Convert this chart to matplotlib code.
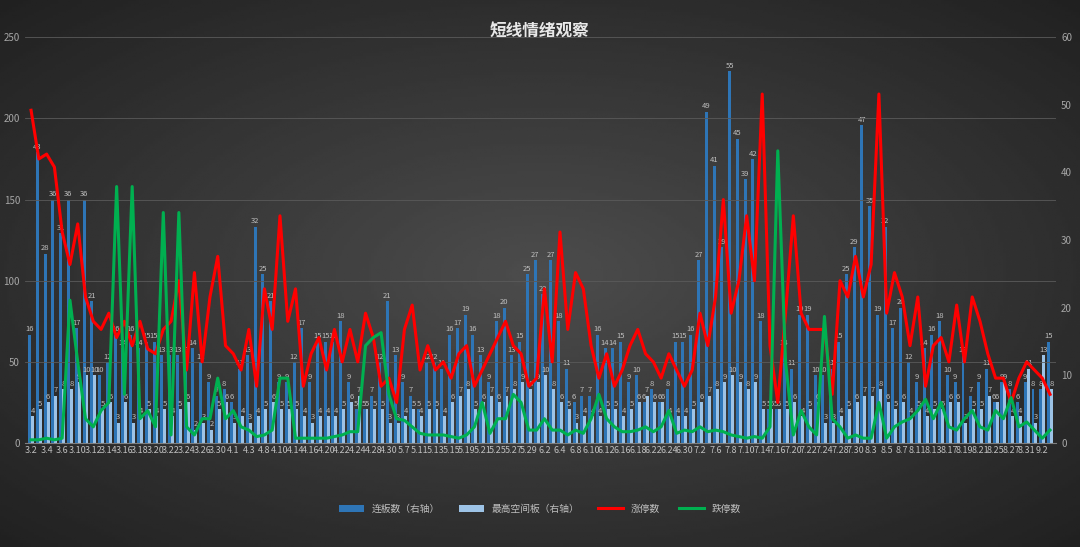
import numpy as np
import matplotlib.pyplot as plt
plt.rcParams['font.family'] = ['Noto Sans CJK SC', 'Noto Sans CJK JP', 'Noto Sans CJK KR', 'DejaVu Sans']

dates = ['3.2','3.3','3.4','3.5','3.6','3.9','3.10','3.11','3.12','3.13','3.14','3.15','3.16','3.17','3.18','3.19','3.20','3.21','3.22','3.23','3.24','3.25','3.26',
         '3.29','3.30','3.31','4.1','4.2','4.3','4.7','4.8','4.9','4.10',
         '4.13','4.14','4.15','4.16','4.19','4.20','4.21','4.22','4.23','4.24',
         '4.27','4.28','4.29','4.30','5.6','5.7','5.10','5.11','5.12','5.13',
         '5.14','5.15','5.18','5.19','5.20','5.21','5.24','5.25','5.26','5.27',
         '5.28','5.29','6.1','6.2','6.3','6.4','6.7','6.8','6.9','6.10',
         '6.11','6.12','6.15','6.16','6.17','6.18','6.21','6.22','6.23','6.24',
         '6.25','6.30','7.1','7.2','7.5','7.6','7.7','7.8','7.9','7.10',
         '7.13','7.14','7.15','7.16','7.19','7.20','7.21','7.22','7.23','7.24',
         '7.27','7.28','7.29','7.30','8.2','8.3','8.4','8.5','8.6','8.7',
         '8.10','8.11','8.12','8.13','8.16','8.17','8.18','8.19','8.20','8.21',
         '8.24','8.25','8.26','8.27','8.30','8.31','9.1','9.2','9.3']

# 连板数 (右轴)
lianban = [16,43,28,36,31,36,17,36,21,10,
           12,16,14,16,14,15,15,13,13,13,
           13,14,12,9,7,8,6,11,13,32,
           25,21,9,9,12,17,9,15,15,15,
           18,9,5,5,7,12,21,13,9,7,
           5,12,12,11,16,17,19,16,13,9,
           18,20,13,15,25,27,22,27,18,11,
           6,7,7,16,14,14,15,9,10,6,
           8,6,8,15,15,16,27,49,41,29,
           55,45,39,42,18,5,5,14,11,19,
           19,10,10,11,15,25,29,47,35,19,
           32,17,20,12,9,14,16,18,10,9,
           13,7,9,11,6,9,8,6,9,8,
           8,15]
# 最高空间板 (右轴)
kongjian = [4,5,6,7,8,8,9,10,10,5,
            6,3,6,3,4,5,4,5,4,5,
            6,2,3,2,5,6,3,4,3,4,
            5,6,5,5,5,4,3,4,4,4,
            5,6,7,5,5,5,3,3,4,5,
            4,5,5,4,6,7,8,5,6,7,
            6,7,8,9,8,9,10,8,6,5,
            3,4,4,4,5,5,4,5,6,7,
            6,6,4,4,4,5,6,7,8,9,
            10,9,8,9,5,5,5,5,6,4,
            5,6,3,3,4,5,6,7,7,8,
            6,5,6,4,5,4,5,5,6,6,
            3,5,5,7,6,9,4,4,11,3,
            13,8]
# 涨停数 (左轴)
zhangting = [205,175,178,170,130,110,135,90,75,70,
             80,65,75,60,75,58,55,70,75,100,
             45,105,50,90,115,60,55,45,70,35,
             95,70,140,75,95,35,55,65,45,70,
             50,70,50,80,65,35,40,25,70,85,
             45,60,45,50,40,55,60,35,45,55,
             65,75,60,55,35,40,95,50,130,70,
             105,95,60,40,55,35,45,60,70,55,
             50,40,55,45,35,45,80,60,90,150,
             80,100,140,100,215,60,25,80,140,80,
             70,70,70,30,100,90,115,90,110,215,
             80,105,90,60,90,35,60,65,50,85,
             50,90,75,55,40,40,25,40,50,45,
             40,30]
# 跌停数 (左轴)
dieting = [2,2,3,2,3,88,50,15,10,20,
           25,158,30,158,15,20,10,142,5,142,
           10,5,15,15,40,15,20,10,8,4,
           5,8,40,40,3,3,3,3,3,4,
           5,7,7,60,65,68,30,15,14,10,
           6,5,5,5,4,3,5,10,25,6,
           15,15,30,25,8,8,15,8,8,5,
           8,6,15,30,15,10,7,7,8,10,
           7,10,20,6,8,7,10,7,8,7,
           5,4,3,4,3,10,180,50,5,20,
           10,5,78,15,10,3,5,3,3,25,
           3,10,13,15,20,27,15,25,10,8,
           15,20,10,8,20,15,28,10,13,8,
           3,8]

x = np.arange(len(dates))
txt = '#bfbfbf'

fig = plt.figure(figsize=(10.8, 5.47), dpi=100)
# dark radial background
bg = fig.add_axes([0, 0, 1, 1], zorder=-10)
yy, xx = np.mgrid[-1:1:200j, -1:1:400j]
r = np.sqrt(xx**2 + yy**2)
bg.imshow(0.30 - 0.17 * np.clip(r, 0, 1.4) / 1.4, cmap='gray', vmin=0, vmax=1, aspect='auto')
bg.axis('off')

ax = fig.add_axes([0.023, 0.19, 0.955, 0.742])
ax2 = ax.twinx()
ax.set_zorder(ax2.get_zorder() + 1)
ax.patch.set_visible(False)
ax2.patch.set_visible(False)

w = 0.38
b1 = ax2.bar(x - w / 2, lianban, w, color='#2e75b6', label='连板数（右轴）')
b2 = ax2.bar(x + w / 2, kongjian, w, color='#9dc3e6', label='最高空间板（右轴）')
ax2.bar_label(b1, padding=1, fontsize=5.5, color=txt)
ax2.bar_label(b2, padding=1, fontsize=5.5, color=txt)
ax2.set_ylim(0, 60)
ax2.set_yticks(range(0, 61, 10))

ax.plot(x, zhangting, color='#ff0000', lw=2.2, label='涨停数')
ax.plot(x, dieting, color='#00b050', lw=2.2, label='跌停数')
ax.set_ylim(0, 250)
ax.set_yticks(range(0, 251, 50))
ax.set_xlim(-0.8, len(dates) - 0.2)
ax.set_xticks(x[::2])
ax.set_xticklabels(dates[::2], fontsize=6.5, color=txt)
ax.grid(axis='y', color='#5a5a5a', lw=0.6)
ax2.grid(False)

for a in (ax, ax2):
    a.tick_params(axis='y', colors='#a6a6a6', labelsize=7, length=0)
    a.tick_params(axis='x', length=0, pad=2)
    for s in a.spines.values():
        s.set_visible(False)
ax.spines['bottom'].set_visible(True)
ax.spines['bottom'].set_color('#7f7f7f')

fig.text(0.5, 0.935, '短线情绪观察', ha='center', color='#e8e8e8', fontsize=12, fontweight='bold')
h1, l1 = ax2.get_legend_handles_labels()
h2, l2 = ax.get_legend_handles_labels()
fig.legend(h1 + h2, l1 + l2, loc='lower center', bbox_to_anchor=(0.5, 0.045), ncol=4,
           frameon=False, fontsize=7, labelcolor=txt, handlelength=2.5)

fig.savefig('out.png', dpi=100)
